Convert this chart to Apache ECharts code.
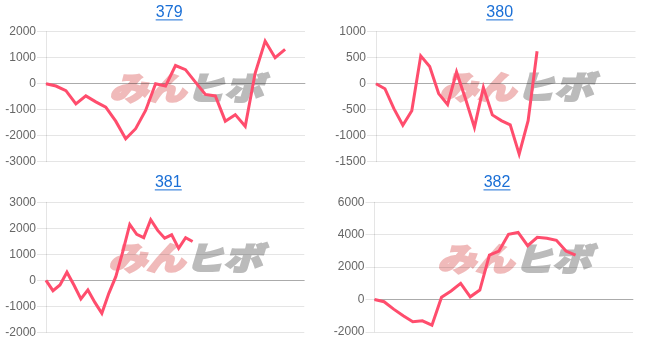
<!DOCTYPE html>
<html>
<head>
<meta charset="utf-8">
<script src="https://cdn.jsdelivr.net/npm/echarts@6/dist/echarts.min.js"></script>
<style>
html,body{margin:0;padding:0;background:#fff;}
#c{width:646px;height:341px;}
</style>
</head>
<body>
<div id="c"></div>
<script>
// ---- data ----
const titles = ['379', '380', '381', '382'];
const categoryCounts = [27, 30, 38, 28];
const values379 = [0, -90, -270, -780, -470, -700, -900, -1440, -2120, -1730, -1030, 0, -90, 700, 540, 60, -410, -470, -1440, -1190, -1640, 410, 1640, 1000, 1320];
const values380 = [0, -97, -480, -800, -520, 535, 330, -190, -400, 225, -290, -840, -70, -600, -710, -790, -1355, -710, 625];
const values381 = [0, -400, -180, 310, -180, -720, -370, -850, -1270, -500, 140, 1100, 2150, 1770, 1640, 2330, 1920, 1620, 1750, 1230, 1640, 1490];
const values382 = [0, -140, -600, -1010, -1380, -1320, -1590, 140, 520, 990, 160, 580, 2740, 2990, 4020, 4140, 3320, 3840, 3780, 3650, 2990, 2740];
const yMins = [-3000, -1500, -2000, -2000];
const yMaxs = [2000, 1000, 3000, 6000];
const yIntervals = [1000, 500, 1000, 2000];
const seriesValues = [values379, values380, values381, values382];

// ---- layout ----
const grids = [
  {left: 46, top: 31.7, width: 259, height: 130},
  {left: 376, top: 31.7, width: 259.5, height: 130},
  {left: 46, top: 202.3, width: 258.3, height: 130},
  {left: 374.5, top: 202.3, width: 258.5, height: 129.5}
];
const titlePos = [[169.2, 12.4], [499.7, 12.4], [168.3, 182.4], [497, 182.4]];
const logoPos = [[186, 88], [516, 87], [185, 257.5], [514, 258.5]];

const lineColor = '#ff4d6d';
const linkColor = '#1a6fd6';
const gridColor = 'rgba(0,0,0,0.1)';
const zeroColor = 'rgba(0,0,0,0.25)';

const xAxes = [], yAxes = [], series = [], graphics = [];
for (let i = 0; i < 4; i++) {
  const cats = Array.from({length: categoryCounts[i]}, (_, k) => String(k + 1));
  xAxes.push({
    gridIndex: i, type: 'category', data: cats, boundaryGap: false,
    axisLabel: {show: false}, axisTick: {show: false},
    axisLine: {show: true, onZero: true, lineStyle: {color: zeroColor, width: 1}},
    splitLine: {show: false}
  });
  yAxes.push({
    gridIndex: i, type: 'value', min: yMins[i], max: yMaxs[i], interval: yIntervals[i],
    axisLine: {show: true, lineStyle: {color: gridColor}},
    axisTick: {show: true, length: 9, lineStyle: {color: gridColor}},
    axisLabel: {margin: 10, color: '#666', fontSize: 12, fontFamily: 'Liberation Sans, Arial, sans-serif',
                formatter: v => String(v)},
    splitLine: {show: true, lineStyle: {color: gridColor}}
  });
  series.push({
    type: 'line', xAxisIndex: i, yAxisIndex: i, data: seriesValues[i],
    symbol: 'none', smooth: false, z: 5,
    lineStyle: {color: lineColor, width: 3, join: 'miter'}
  });
  // title link
  graphics.push({
    type: 'text', x: titlePos[i][0], y: titlePos[i][1], silent: true,
    style: {text: titles[i], fill: linkColor, font: '16px "Liberation Sans", Arial, sans-serif',
            align: 'center', verticalAlign: 'middle'}
  });
  graphics.push({
    type: 'line', silent: true,
    shape: {x1: titlePos[i][0] - 13.5, y1: titlePos[i][1] + 7.5, x2: titlePos[i][0] + 13.5, y2: titlePos[i][1] + 7.5},
    style: {stroke: linkColor, lineWidth: 1}
  });
  // watermark logo
  graphics.push({
    type: 'text', x: logoPos[i][0], y: logoPos[i][1], scaleX: 1.2, z: -10, silent: true,
    style: {
      text: '{a|みん}{b|ヒボ}', align: 'center', verticalAlign: 'middle',
      rich: {
        a: {fill: '#f0baba', stroke: '#f0baba', lineWidth: 2, fontSize: 32, fontWeight: 900, fontStyle: 'italic', fontFamily: '"Noto Sans CJK JP", sans-serif'},
        b: {fill: '#bbbbbb', stroke: '#bbbbbb', lineWidth: 2, fontSize: 32, fontWeight: 900, fontStyle: 'italic', fontFamily: '"Noto Sans CJK JP", sans-serif'}
      }
    }
  });
}

const chart = echarts.init(document.getElementById('c'), null, {renderer: 'canvas'});
chart.setOption({
  animation: false,
  backgroundColor: '#fff',
  grid: grids,
  xAxis: xAxes,
  yAxis: yAxes,
  series: series,
  graphic: graphics
});
</script>
</body>
</html>
